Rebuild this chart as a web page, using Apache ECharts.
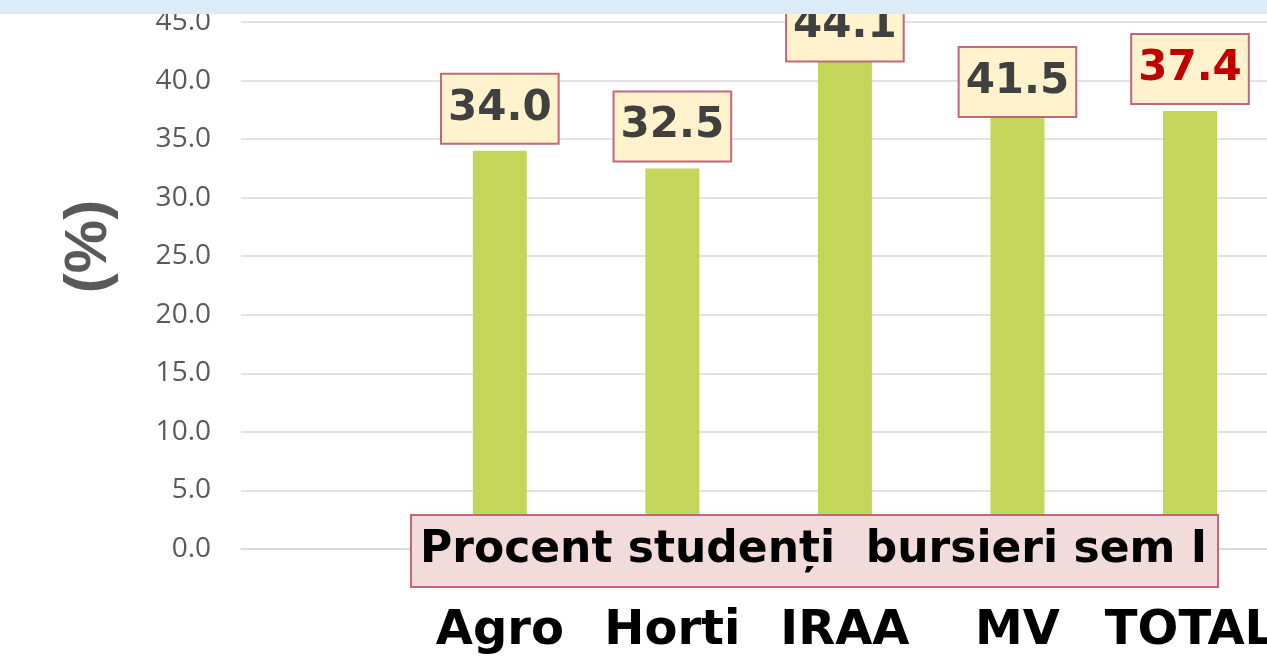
<!DOCTYPE html>
<html>
<head>
<meta charset="utf-8">
<script src="https://cdn.jsdelivr.net/npm/echarts@6/dist/echarts.min.js"></script>
<style>html,body{margin:0;padding:0;background:#fff;overflow:hidden;width:1267px;height:656px;}#c{width:1278px;height:656px;}</style>
</head>
<body>
<div id="c"></div>
<script>
const categories = ['', 'Agro', 'Horti', 'IRAA', 'MV', 'TOTAL'];
const values = [null, 34.0, 32.5, 44.1, 41.5, 37.4];
const seriesName = 'Procent studenți  bursieri sem I';
const yName = '(%)';

// label styling per category (Excel pushed two labels inside the plot)
const labelOffsets = { 'IRAA': [0, 36], 'MV': [0, 61] };
const labelColors = { 'TOTAL': '#C00000' };

const chart = echarts.init(document.getElementById('c'), null, { renderer: 'canvas' });
const data = values.map((v, i) => {
  const cat = categories[i];
  const item = { value: v };
  const lab = {};
  if (labelOffsets[cat]) lab.offset = labelOffsets[cat];
  if (labelColors[cat]) lab.color = labelColors[cat];
  if (Object.keys(lab).length) item.label = lab;
  return item;
});

chart.setOption({
  animation: false,
  backgroundColor: '#ffffff',
  grid: { left: 241, right: 0, top: 22, bottom: 104, containLabel: false },
  legend: {
    data: [seriesName],
    left: 411, top: 515,
    icon: 'rect', itemWidth: 0, itemHeight: 10, itemGap: 0,
    padding: [14, 11, 14, 4],
    backgroundColor: '#F2DCDB',
    borderColor: '#C0677A', borderWidth: 2,
    textStyle: { fontFamily: 'DejaVu Sans', fontWeight: 'bold', fontSize: 44, color: '#000000' }
  },
  xAxis: {
    type: 'category',
    data: categories,
    axisLine: { show: true, lineStyle: { color: '#D9D9D9', width: 1.5 } },
    axisTick: { show: false },
    axisLabel: { margin: 59, interval: 0, fontFamily: 'DejaVu Sans', fontWeight: 'bold', fontSize: 48, color: '#000000' }
  },
  yAxis: {
    type: 'value',
    min: 0, max: 45, interval: 5,
    name: yName,
    nameLocation: 'middle',
    nameGap: 122,
    nameTextStyle: { fontFamily: 'Liberation Sans', fontWeight: 'bold', fontSize: 60, color: '#595959', padding: [0, 0, 0, 78] },
    axisLine: { show: false },
    axisTick: { show: false },
    splitLine: { lineStyle: { color: '#D9D9D9', width: 1.5 } },
    axisLabel: { margin: 30, fontFamily: 'Open Sans', fontSize: 28, color: '#595959', formatter: v => v.toFixed(1) }
  },
  series: [{
    name: seriesName,
    type: 'bar',
    data: data,
    barWidth: 54,
    itemStyle: { color: '#C3D65A' },
    label: {
      show: true,
      position: 'top',
      distance: 8,
      formatter: p => p.value == null ? '' : p.value.toFixed(1),
      fontFamily: 'DejaVu Sans', fontWeight: 'bold', fontSize: 42, color: '#404040',
      lineHeight: 48,
      backgroundColor: '#FFF2CC',
      borderColor: '#C0677A', borderWidth: 2,
      padding: [10, 6, 10, 6]
    }
  }],
  graphic: [{
    type: 'rect', left: 0, top: 0, z: 100,
    shape: { width: 1278, height: 14 },
    style: { fill: '#DDEBF7' }
  }]
});
</script>
</body>
</html>
